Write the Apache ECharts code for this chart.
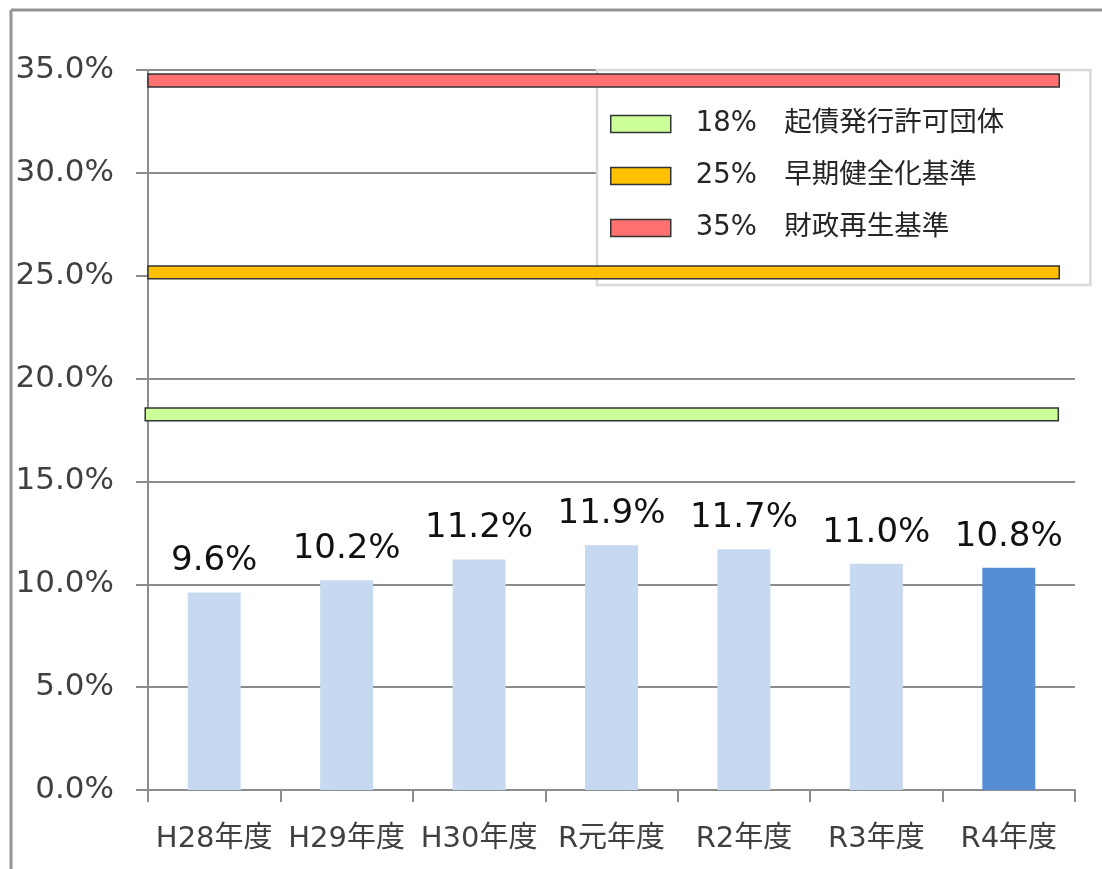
<!DOCTYPE html>
<html>
<head>
<meta charset="utf-8">
<script src="https://cdn.jsdelivr.net/npm/echarts@6/dist/echarts.min.js"></script>
<style>
html, body { margin: 0; padding: 0; background: #ffffff; }
#container { width: 1102px; height: 869px; }
</style>
</head>
<body>
<div id="container"></div>
<script type="text/javascript">
// categories and ratios (%)
var categories = ['H28年度', 'H29年度', 'H30年度', 'R元年度', 'R2年度', 'R3年度', 'R4年度'];
var ratios = [9.6, 10.2, 11.2, 11.9, 11.7, 11.0, 10.8];

// threshold bands: names, lower / upper edge (%), horizontal extent (0..1 of plot width)
var bandNames = ['18%\u3000起債発行許可団体', '25%\u3000早期健全化基準', '35%\u3000財政再生基準'];
var bandLow = [17.95, 24.85, 34.17];
var bandHigh = [18.57, 25.47, 34.8];
var bandStart = [-0.003, 0, 0];
var bandEnd = [0.982, 0.983, 0.983];

var yTicks = { min: 0, max: 35, interval: 5 };

var FONT = "'DejaVu Sans', 'Noto Sans CJK JP', sans-serif";
var bandColors = ['#ccff99', '#ffc000', '#ff7171'];

var dom = document.getElementById('container');
var myChart = echarts.init(dom, null, { renderer: 'canvas' });

function bandSeries(i) {
    return {
        name: bandNames[i],
        type: 'custom',
        xAxisIndex: 1,
        yAxisIndex: 0,
        z: 5,
        itemStyle: { color: bandColors[i], borderColor: '#333333', borderWidth: 1.5 },
        data: [[bandStart[i], bandEnd[i], bandLow[i], bandHigh[i]]],
        renderItem: function (params, api) {
            var p0 = api.coord([api.value(0), api.value(3)]);
            var p1 = api.coord([api.value(1), api.value(2)]);
            return {
                type: 'rect',
                shape: { x: p0[0], y: p0[1], width: p1[0] - p0[0], height: p1[1] - p0[1] },
                style: { fill: bandColors[i], stroke: '#333333', lineWidth: 1.5 }
            };
        }
    };
}

var option = {
    animation: false,
    textStyle: { fontFamily: FONT },
    graphic: [
        { type: 'line', shape: { x1: 11, y1: 10, x2: 1102, y2: 10 }, style: { stroke: '#939393', lineWidth: 3 } },
        { type: 'line', shape: { x1: 11, y1: 10, x2: 11, y2: 869 }, style: { stroke: '#939393', lineWidth: 3 } }
    ],
    grid: { left: 148, right: 27, top: 70, bottom: 79, containLabel: false, outerBoundsMode: 'none' },
    legend: {
        data: bandNames,
        orient: 'vertical',
        left: 597,
        top: 70,
        z: 1,
        padding: [39, 86, 42, 13],
        itemGap: 22,
        itemWidth: 60,
        itemHeight: 17,
        icon: 'rect',
        backgroundColor: '#ffffff',
        borderColor: '#d9d9d9',
        borderWidth: 2.5,
        selectedMode: false,
        itemStyle: { borderColor: '#333333', borderWidth: 1.5 },
        textStyle: { fontFamily: FONT, fontSize: 27.5, color: '#262626', lineHeight: 30, padding: [0, 0, 0, 20] }
    },
    xAxis: [
        {
            type: 'category',
            data: categories,
            axisLine: { lineStyle: { color: '#8c8c8c', width: 2 } },
            axisTick: { show: true, interval: 0, length: 12, lineStyle: { color: '#8c8c8c', width: 2 } },
            axisLabel: { interval: 0, fontFamily: FONT, fontSize: 29, color: '#404040', margin: 35 },
            splitLine: { show: false }
        },
        {
            type: 'value',
            min: 0,
            max: 1,
            show: false
        }
    ],
    yAxis: {
        type: 'value',
        min: yTicks.min,
        max: yTicks.max,
        interval: yTicks.interval,
        axisLine: { show: true, lineStyle: { color: '#8c8c8c', width: 2 } },
        axisTick: { show: true, length: 12, lineStyle: { color: '#8c8c8c', width: 2 } },
        axisLabel: {
            fontFamily: FONT, fontSize: 31, color: '#404040', margin: 34,
            formatter: function (v) { return v.toFixed(1) + '%'; }
        },
        splitLine: { show: true, lineStyle: { color: '#8c8c8c', width: 2 } }
    },
    series: [
        {
            name: 'ratio',
            type: 'bar',
            xAxisIndex: 0,
            yAxisIndex: 0,
            barWidth: '40%',
            z: 3,
            data: ratios,
            itemStyle: {
                color: function (p) {
                    return p.dataIndex === categories.length - 1 ? '#558ed5' : '#c6d9f0';
                }
            },
            label: {
                show: true,
                position: 'top',
                distance: 14,
                fontFamily: FONT,
                fontSize: 34,
                color: '#111111',
                formatter: function (p) { return p.value.toFixed(1) + '%'; }
            }
        },
        bandSeries(0),
        bandSeries(1),
        bandSeries(2)
    ]
};

if (option && typeof option === 'object') {
    myChart.setOption(option, true);
}
</script>
</body>
</html>
